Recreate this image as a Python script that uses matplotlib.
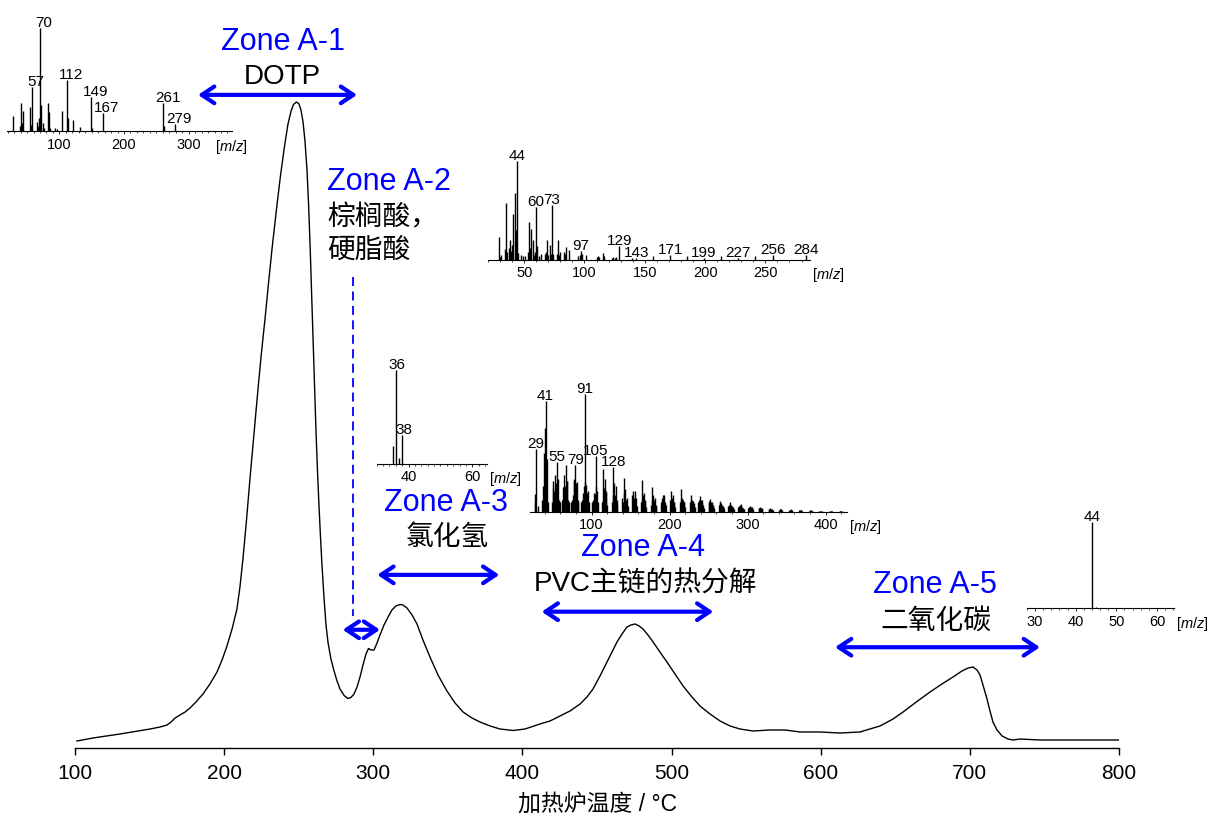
import matplotlib
matplotlib.use("Agg")
import matplotlib.pyplot as plt
from matplotlib.patches import FancyArrowPatch, ArrowStyle
from matplotlib.ticker import MultipleLocator

plt.rcParams["font.family"] = ["Liberation Sans", "Noto Sans CJK SC"]
plt.rcParams["mathtext.fontset"] = "custom"
plt.rcParams["mathtext.rm"] = "Liberation Sans"
plt.rcParams["mathtext.it"] = "Liberation Sans:italic"

BLUE = "#0000ff"
W, H = 1219, 820

# ── EGA thermogram (furnace temperature °C, relative signal) ──────────────────
temp = [101.3, 112.1, 130.2, 150.3, 157.0, 161.7, 164.4, 167.1, 170.4, 173.8,
        177.1, 181.1, 185.8, 190.5, 195.2, 198.6, 201.9, 205.3, 208.6, 210.6,
        212.6, 215.0, 217.3, 220.0, 222.7, 225.0, 227.4, 229.7, 232.1, 234.8,
        237.5, 240.2, 242.8, 244.9, 246.5, 248.5, 250.2, 251.5, 252.9, 254.2,
        255.6, 256.6, 257.6, 258.6, 259.6, 260.6, 261.6, 262.6, 263.6, 264.6,
        265.6, 267.0, 268.3, 269.6, 271.6, 273.7, 275.7, 277.7, 280.4, 283.0,
        285.0, 287.1, 289.1, 291.1, 293.1, 295.1, 296.8, 298.5, 300.5, 302.5,
        304.5, 307.2, 309.9, 312.5, 315.2, 317.9, 319.9, 322.6, 326.0, 329.3,
        333.3, 338.0, 343.4, 349.4, 354.8, 360.2, 366.2, 371.6, 378.3, 385.0,
        393.7, 401.7, 411.8, 418.5, 425.2, 431.9, 438.6, 443.3, 447.3, 452.0,
        456.7, 460.1, 463.4, 466.8, 470.1, 472.8, 475.5, 478.2, 480.8, 484.2,
        487.6, 492.2, 496.9, 502.3, 507.7, 513.7, 519.1, 525.8, 532.5, 539.2,
        545.9, 554.6, 566.0, 576.1, 586.1, 599.5, 612.9, 626.3, 639.8, 648.5,
        655.2, 663.2, 673.3, 681.3, 688.7, 694.7, 698.8, 702.1, 704.8, 706.8,
        708.8, 711.5, 713.5, 715.5, 718.2, 721.6, 725.6, 728.9, 733.6, 747.0,
        773.8, 800.0]
signal = [1.08, 1.55, 2.17, 2.94, 3.25, 3.56, 4.02, 4.64, 5.11, 5.57,
          6.19, 7.12, 8.36, 9.91, 11.76, 13.62, 15.79, 18.42, 21.52, 24.92,
          29.26, 35.29, 41.64, 48.61, 55.57, 61.15, 66.41, 71.83, 77.24, 82.82,
          88.08, 92.72, 96.59, 98.61, 99.61, 100.0, 99.69, 98.76, 96.90, 93.96,
          89.32, 84.21, 78.02, 70.74, 63.31, 55.88, 48.92, 42.88, 37.46, 32.66,
          28.33, 23.07, 19.04, 16.41, 13.78, 11.92, 10.37, 9.13, 8.13, 7.66,
          7.82, 8.36, 9.44, 10.99, 12.85, 14.55, 15.40, 15.17, 15.17, 16.25,
          17.49, 19.04, 20.28, 21.36, 21.98, 22.21, 22.14, 21.67, 20.59, 19.20,
          16.72, 14.09, 11.30, 8.82, 6.97, 5.57, 4.64, 4.02, 3.41, 2.94,
          2.71, 2.94, 3.72, 4.18, 4.95, 5.73, 6.81, 7.89, 9.13, 11.15,
          13.31, 14.86, 16.41, 17.65, 18.73, 19.04, 19.20, 18.89, 18.42, 17.49,
          16.41, 14.86, 13.31, 11.46, 9.60, 7.89, 6.50, 5.26, 4.18, 3.41,
          2.94, 2.63, 2.79, 2.79, 2.48, 2.48, 2.32, 2.48, 3.41, 4.49,
          5.57, 6.97, 8.67, 9.91, 10.99, 11.92, 12.38, 12.54, 12.07, 11.30,
          9.75, 7.59, 5.73, 4.02, 2.79, 1.86, 1.39, 1.24, 1.39, 1.24,
          1.24, 1.24]

# ── zones ─────────────────────────────────────────────────────────────────────
zone_names = ["Zone A-1", "Zone A-2", "Zone A-3", "Zone A-4", "Zone A-5"]
zone_compounds = ["DOTP", "棕榈酸，\n硬脂酸", "氯化氢", "PVC主链的热分解", "二氧化碳"]
zone_lo = [182.5, 279.5, 302.7, 412.9, 609.6]
zone_hi = [289.1, 304.5, 384.5, 528.0, 747.0]

# ── mass spectra (m/z, relative intensity) ────────────────────────────────────
ms1_mz = [29, 39, 41, 42, 43, 55, 56, 57, 65, 67, 69, 70, 71, 75, 76, 83, 84, 85,
          93, 97, 104, 112, 113, 121, 132, 149, 150, 167, 261, 262, 279]
ms1_int = [15, 5, 27, 8, 20, 24, 6, 43, 9, 5, 13, 100, 26, 8, 3, 27, 19, 3,
           3, 2, 20, 50, 13, 11, 4, 33, 3, 18, 27, 5, 7]
ms1_labels = [57, 70, 112, 149, 167, 261, 279]

ms2_mz = [29, 30, 31, 34, 35, 36, 37, 38, 39, 40,
          41, 42, 43, 44, 45, 47, 49, 51, 53, 54,
          55, 56, 57, 58, 59, 60, 61, 62, 64, 67,
          68, 69, 70, 71, 72, 73, 74, 77, 78, 79,
          80, 83, 84, 85, 87, 95, 96, 97, 98, 101,
          110, 111, 112, 115, 116, 123, 124, 125, 126, 129,
          139, 143, 157, 171, 185, 199, 213, 227, 241, 256,
          284]
ms2_int = [22.6, 3, 5, 10.8, 57, 8, 12, 19.5, 9.1, 15,
           46, 67, 30, 100, 7, 5, 4, 4, 8, 37.7,
           12, 31, 20, 5, 8, 53.5, 14, 4, 5.7, 6,
           8, 19.5, 5, 15, 6, 55.5, 5.7, 6, 19.5, 5,
           7.4, 8, 6, 13.1, 9.8, 4, 5, 9.1, 5.7, 4.7,
           3, 4, 3, 6.7, 4, 2, 2.4, 2, 3, 14.1,
           1.3, 2, 3.4, 4.7, 4, 1.2, 4, 1.2, 4, 4.7,
           4.7]
ms2_labels = [44, 60, 73, 97, 129, 143, 171, 199, 227, 256, 284]

ms3_mz = [35, 36, 37, 38]
ms3_int = [19, 100, 5.5, 30.6]
ms3_labels = [36, 38]

ms4_mz = [27, 28, 29, 31, 37, 38, 39, 40, 41, 42, 43, 44,
          49, 50, 51, 52, 53, 54, 55, 56, 57, 58, 59,
          62, 63, 64, 65, 66, 67, 68, 69, 70, 71,
          74, 75, 76, 77, 78, 79, 80, 81, 82, 83,
          87, 88, 89, 90, 91, 92, 93, 94, 95, 96,
          101, 102, 103, 104, 105, 106, 107, 108,
          113, 114, 115, 116, 117, 118, 119, 120,
          126, 127, 128, 129, 130, 131, 132, 133,
          139, 140, 141, 142, 143, 144, 145, 146,
          152, 153, 154, 155, 156, 157, 158,
          163, 164, 165, 166, 167, 168, 169, 170,
          176, 177, 178, 179, 180, 181, 182, 183,
          189, 190, 191, 192, 193, 194, 195,
          201, 202, 203, 204, 205, 206, 207,
          213, 214, 215, 216, 217, 218, 219, 220,
          226, 227, 228, 229, 230, 231, 232,
          237, 238, 239, 240, 241, 242, 243, 244,
          250, 251, 252, 253, 254, 255, 256, 257,
          263, 264, 265, 266, 267, 268, 269, 270,
          275, 276, 277, 278, 279, 280, 281, 282,
          288, 289, 290, 291, 292, 293, 294, 295,
          301, 302, 303, 304, 305, 306, 307,
          314, 315, 316, 317, 318, 319,
          327, 328, 329, 330, 331, 332,
          340, 341, 342, 343, 344,
          353, 354, 355, 356, 357,
          366, 367, 368, 369, 370,
          379, 380, 381, 382, 383,
          392, 393, 394, 395,
          405, 406, 407, 408,
          418, 419, 420, 421]
ms4_int = [15, 8, 53, 5, 10, 22, 50, 71, 94, 30, 45, 8,
           8, 20, 26, 18, 31, 24, 42, 20, 28, 10, 8,
           10, 21, 12, 31, 22, 40, 26, 26, 10, 8,
           8, 10, 14, 28, 26, 40, 24, 25, 10, 8,
           8, 10, 16, 22, 100, 25, 23, 16, 18, 8,
           8, 10, 16, 15, 47, 22, 18, 8,
           8, 10, 36, 20, 28, 18, 16, 6,
           8, 14, 38, 24, 14, 22, 10, 6,
           12, 8, 29, 16, 19, 10, 12, 5,
           14, 18, 12, 18, 10, 12, 5,
           8, 10, 27, 14, 16, 9, 10, 4,
           6, 10, 21, 14, 10, 12, 6, 4,
           8, 12, 14, 10, 14, 8, 6,
           10, 18, 12, 14, 8, 8, 4,
           8, 10, 19, 12, 10, 8, 8, 4,
           8, 10, 14, 10, 9, 7, 4,
           8, 10, 13, 10, 10, 7, 6, 3,
           7, 9, 11, 8, 8, 6, 5, 3,
           6, 7, 9, 7, 6, 5, 4, 3,
           5, 6, 8, 6, 6, 5, 4, 2,
           4, 5, 6, 6.5, 5, 4, 3, 2,
           3, 4, 5, 4, 4, 3, 2,
           3, 3.5, 4, 3, 3, 2,
           2, 2.5, 3, 2.5, 2, 1.5,
           1.8, 2, 2.5, 2, 1.5,
           1.5, 1.8, 2, 1.5, 1.2,
           1.2, 1.3, 1.5, 1.2, 1,
           1, 1.1, 1.2, 1, 0.8,
           0.8, 0.9, 1, 0.8,
           0.6, 0.7, 0.8, 0.6,
           0.5, 0.5, 0.6, 0.5]
ms4_labels = [29, 41, 55, 79, 91, 105, 128]

ms5_mz = [44, 45]
ms5_int = [100, 1.2]
ms5_labels = [44]


def fig_rect(left, right, base, top):
    """pixel box (from top-left) -> figure fraction rect"""
    return [left / W, (H - base) / H, (right - left) / W, (base - top) / H]


def draw_spectrum(fig, box, mz, inten, labels, xlim, ticks, minor, label_dx, unit_x):
    ax = fig.add_axes(fig_rect(*box))
    ax.patch.set_visible(False)
    ax.vlines(mz, 0, inten, color="black", lw=1.0)
    ax.set_xlim(*xlim)
    ax.set_ylim(0, 100)
    for s in ("top", "left", "right"):
        ax.spines[s].set_visible(False)
    ax.spines["bottom"].set_linewidth(0.8)
    ax.set_yticks([])
    ax.set_xticks(ticks)
    ax.xaxis.set_minor_locator(MultipleLocator(minor))
    ax.tick_params(axis="x", which="major", length=2.5, width=0.6, pad=1.5, labelsize=10.5)
    ax.tick_params(axis="x", which="minor", length=1.5, width=0.5)
    height = dict(zip(mz, inten))
    for m in labels:
        ax.annotate(str(m), (m, height.get(m, 0)), xytext=(label_dx, 1.5),
                    textcoords="offset points", ha="center", va="baseline",
                    fontsize=11, annotation_clip=False)
    ax.annotate("[$m/z$]", (unit_x, 0), xycoords="axes fraction", xytext=(1.5, -4),
                textcoords="offset points", ha="left", va="top", fontsize=10.5)
    return ax


fig = plt.figure(figsize=(W / 100, H / 100), dpi=100)

# main thermogram
ax = fig.add_axes(fig_rect(75, 1119, 749, 0))
ax.plot(temp, signal, color="black", lw=1.0)
ax.set_xlim(100, 800)
ax.set_ylim(0, 115.94)
for s in ("top", "left", "right"):
    ax.spines[s].set_visible(False)
ax.spines["bottom"].set_linewidth(1.0)
ax.set_yticks([])
ax.set_xticks(range(100, 801, 100))
ax.tick_params(axis="x", direction="out", length=5, width=1.0, pad=6, labelsize=15)
ax.set_xlabel("加热炉温度 / °C", fontsize=16.5, labelpad=7)

# zone arrows and labels
arrow_y = [101.1, 18.3, 26.8, 21.1, 15.6]
title_xy = [(239.5, 109.4), (269.0, 87.8), (348.8, 38.1), (480.8, 31.1), (676.6, 25.4)]
comp_xy = [(239.1, 104.0), (269.0, 82.2), (349.4, 32.7), (482.2, 25.4), (677.3, 19.7)]
style = ArrowStyle("<->", head_length=0.45, head_width=0.3)
for i, name in enumerate(zone_names):
    ax.add_patch(FancyArrowPatch((zone_lo[i], arrow_y[i]), (zone_hi[i], arrow_y[i]),
                                 arrowstyle=style, mutation_scale=20, lw=3,
                                 color=BLUE, shrinkA=0, shrinkB=0))
    ha = "left" if i == 1 else "center"
    ax.text(*title_xy[i], name, color=BLUE, fontsize=22, ha=ha, va="center")
    cx, cy = comp_xy[i]
    for k, line in enumerate(zone_compounds[i].split("\n")):
        ax.text(cx, cy - 5.0 * k, line, color="black", fontsize=20, ha=ha, va="center")

# dashed guide for zone A-2
ax.plot([286.6, 286.6], [72.9, 20.4], color=BLUE, lw=1.3, linestyle=(0, (5, 3)))

# mass spectra insets
draw_spectrum(fig, (7, 232, 132.3, 29.3), ms1_mz, ms1_int, ms1_labels,
              (19, 367), [100, 200, 300], 10, 3, 0.916)
draw_spectrum(fig, (488, 810, 260.6, 161.6), ms2_mz, ms2_int, ms2_labels,
              (20, 287), [50, 100, 150, 200, 250], 10, 0, 1.0)
draw_spectrum(fig, (376.7, 486.7, 464.6, 371), ms3_mz, ms3_int, ms3_labels,
              (30, 64.5), [40, 60], 2, 1, 1.0)
draw_spectrum(fig, (530, 846.7, 512.7, 395), ms4_mz, ms4_int, ms4_labels,
              (21, 427), [100, 200, 300, 400], 20, 0, 1.0)
draw_spectrum(fig, (1027, 1174, 609, 523), ms5_mz, ms5_int, ms5_labels,
              (28, 64.2), [30, 40, 50, 60], 2, 0, 1.0)

fig.savefig("out.png", dpi=100)
